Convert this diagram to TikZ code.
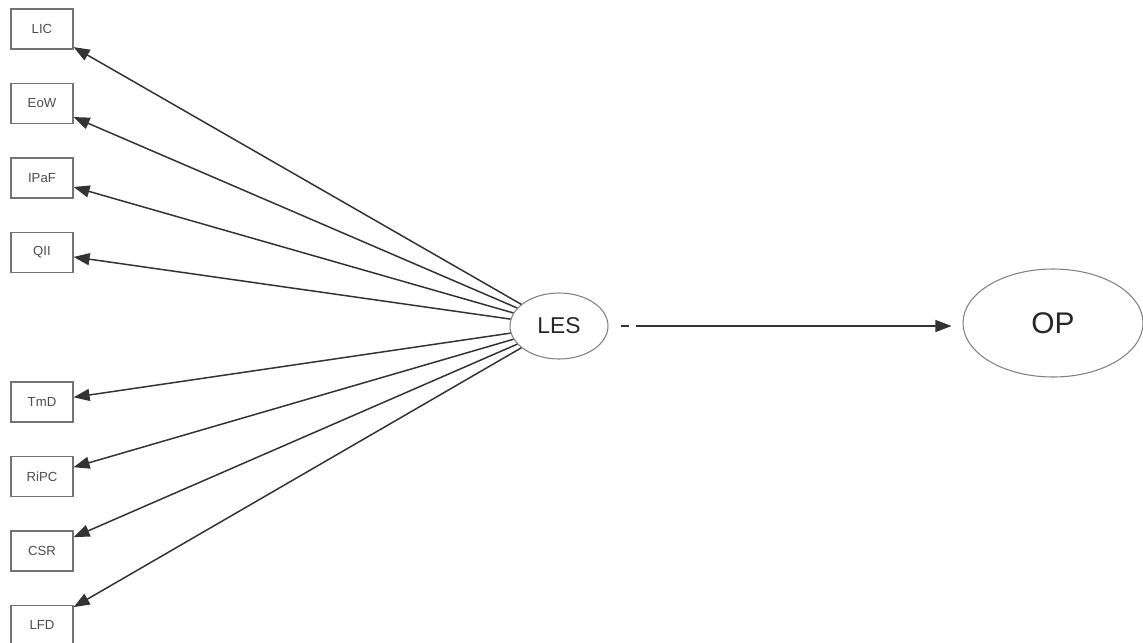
\documentclass[tikz,border=0pt]{standalone}
\usepackage{fontspec}
\setmainfont{Liberation Sans}
\usetikzlibrary{arrows.meta,positioning,shapes.geometric}

\begin{document}
\begin{tikzpicture}[node distance=6.65mm, >={Triangle[length=3.2mm, width=2.4mm]},
        box/.style={draw=black!55, line width=0.7pt, minimum height=8mm, minimum width=12.4mm, inner sep=0pt, font=\fontsize{7.5}{9}\selectfont, text=black!70},
        latent/.style={ellipse, draw=black!50, line width=0.6pt, inner sep=0pt},
        load/.style={->, draw=black!80, line width=0.85pt}]
      \useasboundingbox (0,0) rectangle (22.86,-12.84);
      \node[box] (lic) at (0.84,-0.58) {LIC};
      \node[box, below=of lic] (eow) {EoW};
      \node[box, below=of eow] (ipaf) {IPaF};
      \node[box, below=of ipaf] (qii) {QII};
      \node[box, below=21.65mm of qii] (tmd) {TmD};
      \node[box, below=of tmd] (ripc) {RiPC};
      \node[box, below=of ripc] (csr) {CSR};
      \node[box, below=of csr] (lfd) {LFD};
      \node[latent, minimum width=19.6mm, minimum height=13.2mm, font=\fontsize{13}{15}\selectfont, text=black!85] (les) at (11.18,-6.52) {LES};
      \node[latent, minimum width=36mm, minimum height=21.6mm, font=\fontsize{17}{19}\selectfont, text=black!85] (op) at (21.06,-6.46) {OP};
      % loadings
      \foreach \ind in {lic,eow,ipaf,qii,tmd,ripc,csr,lfd}
        \draw[load] (les) -- (\ind);
      \draw[->, draw=black!80, line width=0.6pt, shorten <=2.4mm, shorten >=2.2mm,
            dash pattern={on 1.6mm off 1.4mm on 200mm}] (les.east) -- (op.west |- les.east);
    \end{tikzpicture}
\end{document}
